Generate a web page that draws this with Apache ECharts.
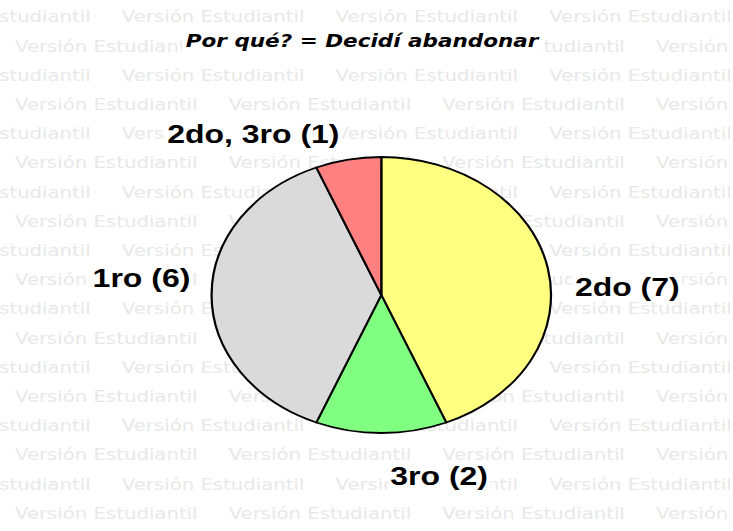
<!DOCTYPE html>
<html>
<head>
<meta charset="utf-8">
<title>Por qué? = Decidí abandonar</title>
<script src="https://cdn.jsdelivr.net/npm/echarts@6/dist/echarts.min.js"></script>
<style>
  html, body { margin: 0; padding: 0; background: #fff; overflow: hidden; }
  /* the original picture is stretched sideways, so is this one */
  #chart { width: 596px; height: 531px; transform: scaleX(1.23); transform-origin: 0 0; }
</style>
</head>
<body>
<div id="chart"></div>
<script>
// data
const categories = ['2do', '3ro', '1ro', '2do, 3ro']
const counts = [7, 2, 6, 1]
const sliceColors = ['#ffff80', '#80ff80', '#dadada', '#ff8080']
// label centres (unstretched px)
const labelPos = [[510, 287], [357, 476], [115, 278], [206, 134]]

const titleText = 'Por qué? = Decidí abandonar'
const watermark = 'Versión Estudiantil'

// watermark rows, every other row shifted by half a step
const wmStep = 173.7
const wm = []
for (let i = 0; i < 18; i++) {
  const y = 16.7 + i * 29.2
  let x = i % 2 === 0 ? 12.2 - wmStep / 2 : 12.2
  for (; x < 600; x += wmStep) {
    wm.push({
      type: 'text',
      x: x,
      y: y,
      z: 0,
      silent: true,
      style: {
        text: watermark,
        fill: '#e8e8e8',
        font: '16px "DejaVu Sans"',
        textVerticalAlign: 'middle'
      }
    })
  }
}

const chart = echarts.init(document.getElementById('chart'), null, { renderer: 'svg' })
chart.setOption({
  animation: false,
  backgroundColor: '#fff',
  title: {
    text: titleText,
    left: 148,
    top: 29,
    padding: [3, 3],
    backgroundColor: '#fff',
    z: 6,
    textStyle: {
      color: '#000',
      fontFamily: 'DejaVu Sans',
      fontStyle: 'italic',
      fontWeight: 'bold',
      fontSize: 17.5
    }
  },
  graphic: wm,
  series: [
    {
      type: 'pie',
      center: [310, 295],
      radius: 138,
      startAngle: 90,
      clockwise: true,
      z: 2,
      emphasis: { disabled: true },
      itemStyle: {
        borderColor: '#000',
        borderWidth: 1.8
      },
      label: {
        show: true,
        position: 'outside',
        formatter: '{b} ({c})',
        color: '#000',
        fontFamily: 'Liberation Sans',
        fontWeight: 'bold',
        fontSize: 26,
        backgroundColor: '#fff',
        padding: [1, 2]
      },
      labelLine: { show: false },
      labelLayout: function (params) {
        const p = labelPos[params.dataIndex]
        return { x: p[0], y: p[1], align: 'center', verticalAlign: 'middle' }
      },
      data: categories.map(function (name, i) {
        return { name: name, value: counts[i], itemStyle: { color: sliceColors[i] } }
      })
    }
  ]
})
</script>
</body>
</html>
